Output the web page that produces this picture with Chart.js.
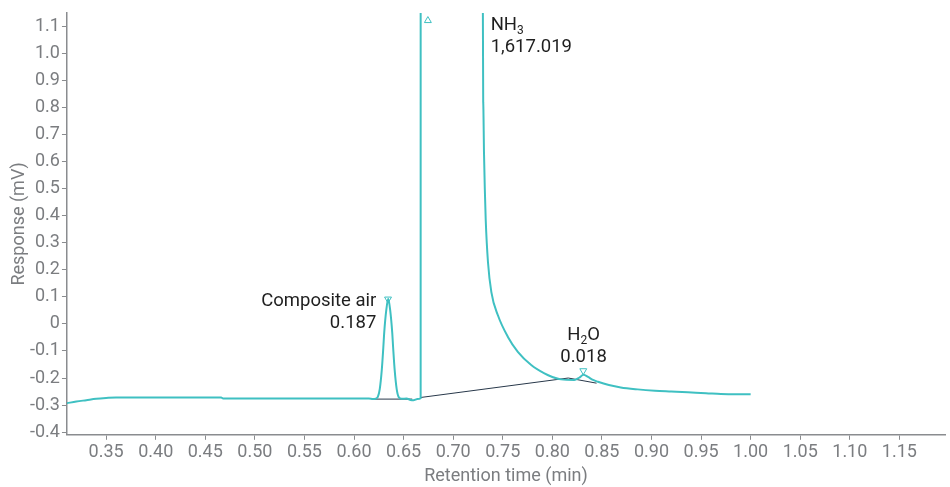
<!DOCTYPE html>
<html>
<head>
<meta charset="utf-8">
<script src="https://cdn.jsdelivr.net/npm/chart.js@4.4.1/dist/chart.umd.min.js"></script>
<style>
  body { margin: 0; background: #fff; }
  #chrom { display: block; }
</style>
</head>
<body>
<canvas id="chrom" width="950" height="487"></canvas>
<script>

// detector trace (min, mV)
const traceTime = [0.3105, 0.32, 0.33, 0.34, 0.35, 0.36, 0.40, 0.466, 0.468, 0.55, 0.615, 0.619, 0.622,
    0.624, 0.626, 0.628, 0.6295, 0.6305, 0.6325, 0.6345, 0.6365, 0.6385, 0.6395, 0.641, 0.643, 0.645,
    0.648, 0.653, 0.657, 0.660, 0.664, 0.6672, 0.6675, 0.7295, 0.7299, 0.7303, 0.7311, 0.7319, 0.7328,
    0.7351, 0.7385, 0.7451, 0.7552, 0.7652, 0.7787, 0.792, 0.80, 0.8088, 0.8222, 0.827, 0.8315, 0.836,
    0.841, 0.846, 0.857, 0.869, 0.886, 0.9035, 0.92, 0.9367, 0.955, 0.97, 0.985, 1.0];
const traceResp = [-0.293, -0.287, -0.282, -0.277, -0.274, -0.272, -0.272, -0.272, -0.276, -0.276, -0.276, -0.278, -0.276,
    -0.27, -0.24, -0.17, -0.09, -0.03, 0.05, 0.093, 0.05, -0.03, -0.09, -0.17, -0.24, -0.27,
    -0.277, -0.276, -0.281, -0.282, -0.278, -0.275, 60, 60, 1.2, 0.82, 0.63, 0.5, 0.387,
    0.228, 0.118, 0.032, -0.048, -0.103, -0.152, -0.183, -0.196, -0.205, -0.207, -0.199, -0.188, -0.196,
    -0.207, -0.214, -0.226, -0.235, -0.242, -0.247, -0.25, -0.253, -0.256, -0.259, -0.26, -0.26];

// integration baselines
const baseAirTime = [0.6185, 0.6587];
const baseAirResp = [-0.278, -0.278];
const baseNh3Time = [0.6672, 0.8161];
const baseNh3Resp = [-0.272, -0.2];
const baseH2oTime = [0.8161, 0.8446];
const baseH2oResp = [-0.2, -0.219];

// peak markers
const apexUpTime = [0.6745];
const apexUpResp = [1.122];
const apexDownTime = [0.6343, 0.8312];
const apexDownResp = [0.092, -0.173];

// peak labels
const peakNames = [["Composite air", ""], ["NH", "3"], ["H", "2", "O"]];
const peakAreas = ["0.187", "1,617.019", "0.018"];
const labelTime = [0.6225, 0.7378, 0.8315];
const labelResp = [0.066, 1.086, -0.06];
const labelAlign = ["right", "left", "center"];

const xTicks = [0.35, 0.40, 0.45, 0.50, 0.55, 0.60, 0.65, 0.70, 0.75, 0.80, 0.85, 0.90, 0.95, 1.00, 1.05, 1.10, 1.15];
const yTicks = [-0.4, -0.3, -0.2, -0.1, 0, 0.1, 0.2, 0.3, 0.4, 0.5, 0.6, 0.7, 0.8, 0.9, 1.0, 1.1];

const teal = "#3fc0c2";
const grey = "#7b7d80";
const axisGrey = "#8a8c8f";

function pts(xs, ys) {
    let out = [];
    for (let i = 0; i < xs.length; ++i) out.push({ x: xs[i], y: ys[i] });
    return out;
}

const peakLabels = {
    id: "peakLabels",
    afterDatasetsDraw(chart) {
        const ctx = chart.ctx;
        const xs = chart.scales.x, ys = chart.scales.y;
        ctx.save();
        ctx.fillStyle = "#1f1f1f";
        ctx.textBaseline = "alphabetic";
        for (let i = 0; i < peakNames.length; ++i) {
            const px = xs.getPixelForValue(labelTime[i]);
            const py = ys.getPixelForValue(labelResp[i]);
            const parts = peakNames[i];
            // odd parts are subscripts
            let widths = [];
            let total = 0;
            for (let j = 0; j < parts.length; ++j) {
                ctx.font = (j % 2 === 1 ? "12px" : "18.5px") + " Roboto";
                const w = ctx.measureText(parts[j]).width;
                widths.push(w);
                total += w;
            }
            let x0 = px;
            if (labelAlign[i] === "right") x0 = px - total;
            else if (labelAlign[i] === "center") x0 = px - total / 2;
            let cx = x0;
            for (let j = 0; j < parts.length; ++j) {
                ctx.font = (j % 2 === 1 ? "12px" : "18.5px") + " Roboto";
                ctx.textAlign = "left";
                ctx.fillText(parts[j], cx, j % 2 === 1 ? py + 4 : py);
                cx += widths[j];
            }
            ctx.font = "18.5px Roboto";
            ctx.textAlign = labelAlign[i];
            ctx.fillText(peakAreas[i], px, py + 22);
        }
        ctx.restore();
    }
};

new Chart(document.getElementById("chrom"), {
    type: "line",
    data: {
        datasets: [
            {
                data: pts(traceTime, traceResp),
                borderColor: teal,
                borderWidth: 2,
                pointRadius: 0,
                cubicInterpolationMode: "monotone",
                order: 1
            },
            {
                data: pts(baseAirTime, baseAirResp),
                borderColor: "#28384a",
                borderWidth: 1,
                pointRadius: 0,
                order: 2
            },
            {
                data: pts(baseNh3Time, baseNh3Resp),
                borderColor: "#28384a",
                borderWidth: 1,
                pointRadius: 0,
                order: 2
            },
            {
                data: pts(baseH2oTime, baseH2oResp),
                borderColor: "#28384a",
                borderWidth: 1,
                pointRadius: 0,
                order: 2
            },
            {
                data: pts(apexUpTime, apexUpResp),
                showLine: false,
                pointStyle: "triangle",
                pointRadius: 4,
                pointBorderWidth: 1,
                pointBorderColor: teal,
                pointBackgroundColor: "rgba(255,255,255,0)",
                order: 0
            },
            {
                data: pts(apexDownTime, apexDownResp),
                showLine: false,
                pointStyle: "triangle",
                pointRotation: 180,
                pointRadius: 4,
                pointBorderWidth: 1,
                pointBorderColor: teal,
                pointBackgroundColor: "rgba(255,255,255,0)",
                order: 0
            }
        ]
    },
    options: {
        responsive: false,
        animation: false,
        layout: { padding: { top: 13, right: 0, left: 10, bottom: 0 } },
        plugins: {
            legend: { display: false },
            tooltip: { enabled: false }
        },
        scales: {
            x: {
                type: "linear",
                min: 0.3105,
                max: 1.196,
                afterBuildTicks: (axis) => { axis.ticks = xTicks.map(v => ({ value: v })); },
                ticks: {
                    color: grey,
                    font: { family: "Roboto", size: 18 },
                    padding: 2,
                    maxRotation: 0,
                    callback: (v) => Number(v).toFixed(2)
                },
                grid: { drawOnChartArea: false, drawTicks: true, tickLength: 5, color: axisGrey },
                border: { display: true, color: axisGrey, width: 1.5 },
                title: {
                    display: true,
                    text: "Retention time (min)",
                    color: grey,
                    font: { family: "Roboto", size: 18 },
                    padding: { top: 0, bottom: 0 }
                }
            },
            y: {
                type: "linear",
                min: -0.41,
                max: 1.15,
                afterBuildTicks: (axis) => { axis.ticks = yTicks.map(v => ({ value: v })); },
                ticks: {
                    color: grey,
                    font: { family: "Roboto", size: 18 },
                    padding: 2,
                    callback: (v) => Math.abs(v) < 1e-9 ? "0" : Number(v).toFixed(1)
                },
                grid: { drawOnChartArea: false, drawTicks: true, tickLength: 5, color: axisGrey },
                border: { display: true, color: axisGrey, width: 1.5 },
                title: {
                    display: true,
                    text: "Response (mV)",
                    color: grey,
                    font: { family: "Roboto", size: 18, lineHeight: 1 },
                    padding: { top: 0, bottom: 0 }
                }
            }
        }
    },
    plugins: [peakLabels]
});
</script>
</body>
</html>
